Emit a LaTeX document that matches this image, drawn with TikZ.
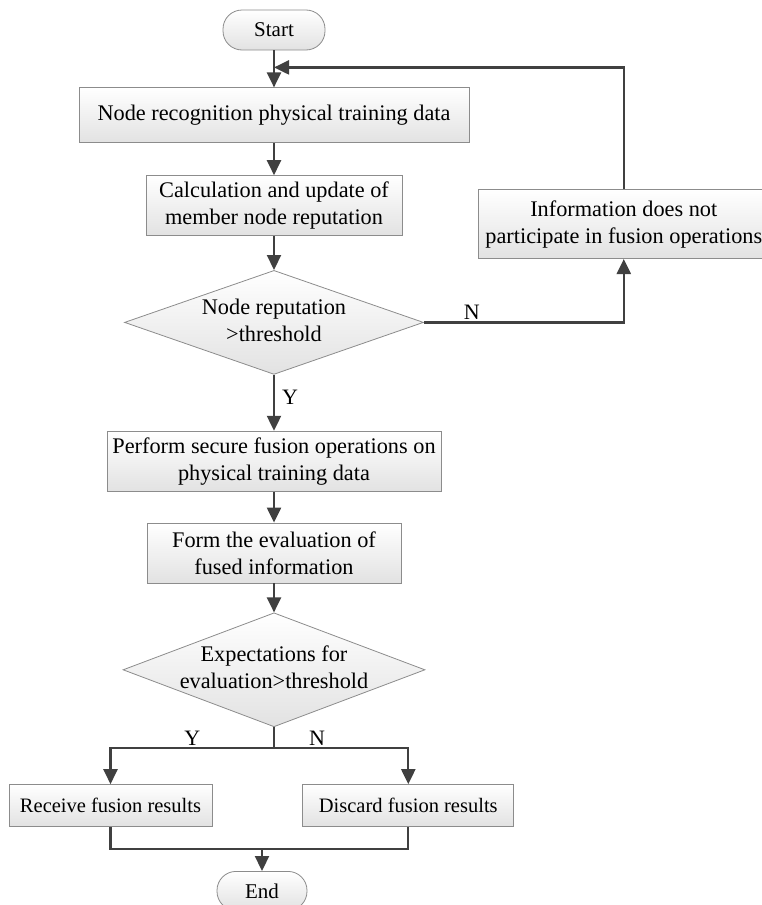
\documentclass[tikz,border=0pt]{standalone}
\usepackage{fontspec}
\setmainfont{Liberation Serif}
\usetikzlibrary{positioning, arrows.meta, shapes.geometric, calc}
\definecolor{LineColor}{RGB}{64,64,64}
\definecolor{EdgeColor}{RGB}{140,140,140}
\definecolor{ShadeColor}{RGB}{226,226,226}
\newcommand{\dtext}[2]{\makebox[0pt]{\begin{tabular}{@{}c@{}}#1\\#2\end{tabular}}}

\begin{document}
\begin{tikzpicture}[x=1pt, y=1pt,
    box/.style={draw=EdgeColor, line width=0.8pt, top color=white, bottom color=ShadeColor, align=center, inner sep=0pt, font=\fontsize{22.3}{27}\selectfont},
    term/.style={box, rounded corners=19pt, font=\fontsize{21}{25}\selectfont},
    decision/.style={box, diamond},
    flow/.style={-{Triangle[length=15pt, width=14pt]}, line width=2.2pt, draw=LineColor},
    plain/.style={line width=2.2pt, draw=LineColor},
    lab/.style={font=\fontsize{22}{27}\selectfont, inner sep=2pt}]
  \useasboundingbox (0,0) rectangle (761,-905);
  \node[term, minimum width=102pt, minimum height=40pt] (start) at (274,-30) {Start};
  \node[box, minimum width=390pt, minimum height=55pt, below=37pt of start] (recog) {Node recognition physical training data};
  \node[box, minimum width=256pt, minimum height=60pt, below=32pt of recog] (update) {Calculation and update of\\member node reputation};
  \node[decision, minimum width=299pt, minimum height=104pt, below=34pt of update] (repcheck) {\dtext{Node reputation}{>threshold}};
  \node[box, minimum width=334pt, minimum height=60pt, below=56pt of repcheck] (fusion) {Perform secure fusion operations on\\physical training data};
  \node[box, minimum width=254pt, minimum height=60pt, below=31pt of fusion] (evaluate) {Form the evaluation of\\fused information};
  \node[decision, minimum width=302pt, minimum height=114pt, below=29pt of evaluate] (expcheck) {\dtext{Expectations for}{evaluation>threshold}};
  \node[box, minimum width=203pt, minimum height=42pt, below=57pt of expcheck, xshift=-163.5pt, font=\fontsize{20.5}{25}\selectfont] (receive) {Receive fusion results};
  \node[box, minimum width=211pt, minimum height=42pt, right=90pt of receive, font=\fontsize{20.5}{25}\selectfont] (discard) {Discard fusion results};
  \node[box, minimum width=290pt, minimum height=69pt, right=76pt of update, yshift=-18.5pt] (skip) {Information does not\\participate in fusion operations};
  \node[term, minimum width=90pt, minimum height=39pt, below=44pt of receive, xshift=151.5pt] (stop) {End};

  \coordinate (rejoin) at ($(start.south)!0.46!(recog.north)$);
  \coordinate[above=22pt of stop.north] (merge);

  \draw[flow] (start) -- (recog);
  \draw[flow] (recog) -- (update);
  \draw[flow] (update) -- (repcheck);
  \draw[flow] (repcheck) -- node[lab, pos=0.4, right=5pt] (yesa) {Y} (fusion);
  \draw[flow] (repcheck.east) -| node[lab, pos=0.12, above] (noa) {N} (skip.south);
  \draw[flow] (skip.north) |- (rejoin);
  \draw[flow] (fusion) -- (evaluate);
  \draw[flow] (evaluate) -- (expcheck);
  \draw[flow] (expcheck.south) -- ++(0,-21) -| node[lab, pos=0.25, above] (yesb) {Y} (receive.north);
  \draw[flow] (expcheck.south) -- ++(0,-21) -| node[lab, pos=0.16, above] (nob) {N} (discard.north);
  \draw[plain] (receive.south) |- (merge);
  \draw[flow] (discard.south) |- (merge) -- (stop.north);
\end{tikzpicture}
\end{document}
